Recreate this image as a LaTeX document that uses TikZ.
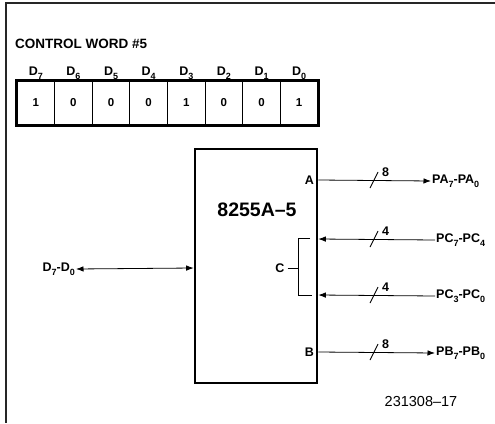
\documentclass[tikz,border=0pt]{standalone}
\usepackage{fontspec}
\setmainfont{Liberation Sans}
\usetikzlibrary{arrows.meta}
\newcommand{\sbx}[1]{\raisebox{-0.55ex}{\fontsize{9}{9}\selectfont #1}}
\begin{document}
\begin{tikzpicture}[x=1pt,y=-1pt,
  lbl/.style={font=\bfseries\fontsize{12.5}{13}\selectfont, inner sep=1pt},
  cell/.style={draw, line width=0.9pt, minimum width=37.625pt, minimum height=44pt, inner sep=0pt, font=\bfseries\fontsize{11.5}{12}\selectfont},
  thick box/.style={draw, line width=2.6pt},
  conn/.style={line width=0.8pt},
  tip/.style={-{Latex[length=7.5pt,width=5.5pt]}},
  slashline/.style={line width=0.9pt}]
\useasboundingbox (0,0) rectangle (495,423);
% frame
\draw[line width=1.2pt, black!85] (495,3) -- (6,3) -- (6,423);
% control word
\node[lbl, anchor=base west, font=\bfseries\fontsize{13.5}{14}\selectfont] (title) at (14,48) {CONTROL WORD \#5};
\foreach \i/\v [count=\k from 0] in {7/1,6/0,5/0,4/0,3/1,2/0,1/0,0/1} {
  \node[cell] (c\i) at ({17+37.625*(\k+0.5)},103) {\v};
  \node[lbl, anchor=base] (d\i) at ({17+37.625*(\k+0.5)},75.5) {D\sbx{\i}};
}
\draw[line width=2.6pt] (c7.north west) rectangle (c0.south east);
% chip
\node[thick box, minimum width=122pt, minimum height=234pt, inner sep=0pt] (chip) at (256,266) {};
\node[font=\bfseries\fontsize{19.5}{20}\selectfont, inner sep=0pt] (name) at (257,210) {8255A–5};
% port coordinates
\coordinate (pA) at (318.3,180);
\coordinate (pC1) at (318.3,239);
\coordinate (pC2) at (318.3,295);
\coordinate (pB) at (318.3,352);
\coordinate (pD) at (193.7,268);
% labels
\node[lbl, anchor=east] (A) at (315,180) {A};
\node[lbl, anchor=east] (B) at (315,352) {B};
\node[lbl] (C) at (280,268) {C};
\node[lbl, anchor=west] (PA) at (431,181) {PA\sbx{7}-PA\sbx{0}};
\node[lbl, anchor=west] (PC1) at (435,240) {PC\sbx{7}-PC\sbx{4}};
\node[lbl, anchor=west] (PC2) at (435,296) {PC\sbx{3}-PC\sbx{0}};
\node[lbl, anchor=west] (PB) at (435,353) {PB\sbx{7}-PB\sbx{0}};
\node[lbl, anchor=east] (D) at (76,269) {D\sbx{7}-D\sbx{0}};
% connectors
\draw[conn, tip] (pA) -- (PA.west);
\draw[conn, tip] (PC1.west) -- (pC1);
\draw[conn, tip] (PC2.west) -- (pC2);
\draw[conn, tip] (pB) -- (PB.west);
\draw[conn, {Latex[length=7.5pt,width=5.5pt]}-{Latex[length=7.5pt,width=5.5pt]}] (D.east) -- (pD);
% bus slashes and widths
\foreach \y/\n/\nm in {180/8/wA,239/4/wC1,295/4/wC2,352/8/wB} {
  \draw[slashline] (370,\y+8) -- (378,\y-8);
  \node[lbl, anchor=base west] (\nm) at (381,\y-4) {\n};
}
% bracket for C
\coordinate (bt) at (310,238);
\coordinate (bb) at (312,295);
\draw[line width=0.8pt] (bt) -- (298,238) -- (298,295) -- (bb);
\draw[line width=0.8pt] (C.east) ++(2,0) -- (298,268);
% figure number
\node[font=\fontsize{14.5}{15}\selectfont, inner sep=0pt] (fig) at (421,402) {231308–17};
\end{tikzpicture}
\end{document}
